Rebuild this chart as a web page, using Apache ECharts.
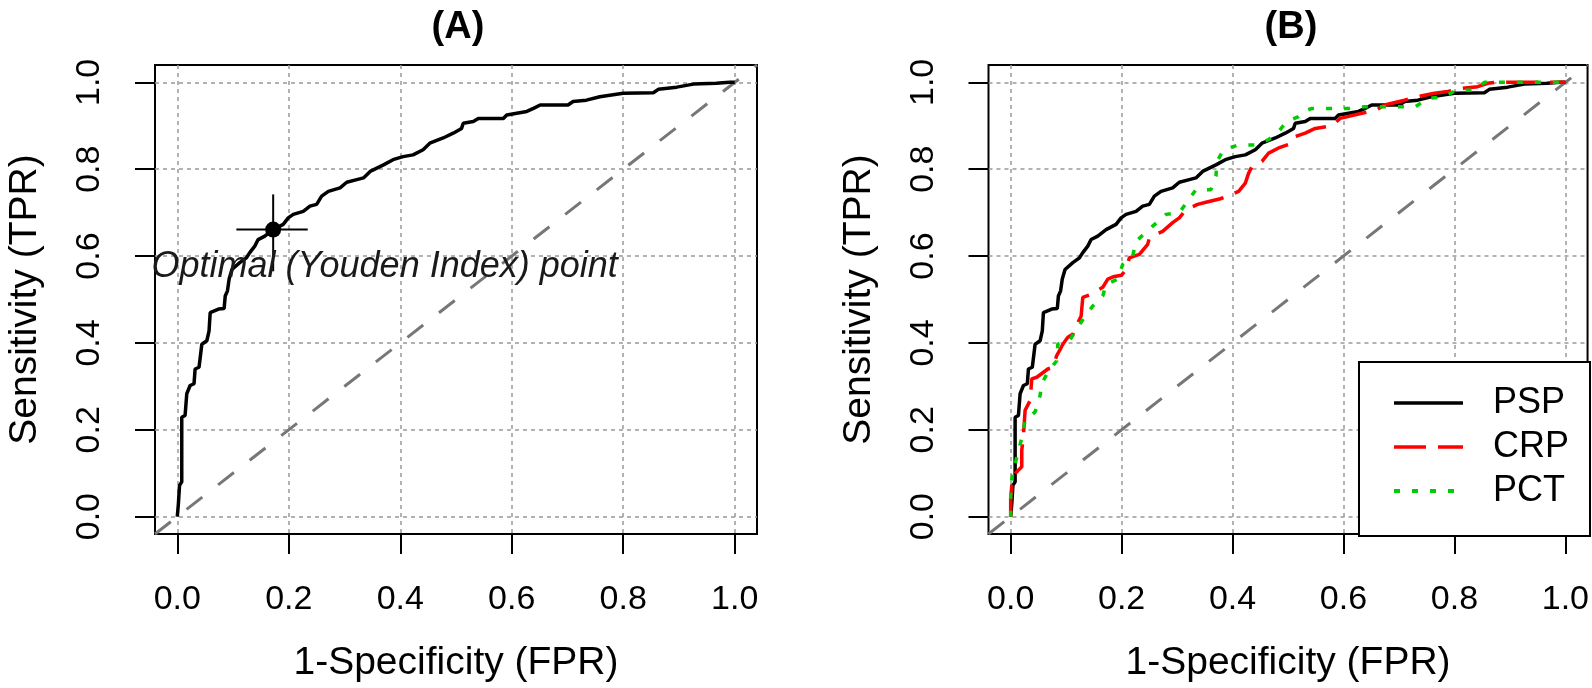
<!DOCTYPE html>
<html>
<head>
<meta charset="utf-8">
<script src="https://cdn.jsdelivr.net/npm/echarts@6/dist/echarts.min.js"></script>
<style>html,body{margin:0;padding:0;background:#fff}#c{width:1592px;height:688px}</style>
</head>
<body>
<div id="c"></div>
<script>
// ---- data ----
const tickValues = [0, 0.2, 0.4, 0.6, 0.8, 1.0];
const axisRange = [-0.04, 1.04];
const diagonal = [[-0.04, -0.04], [1.04, 1.04]];

const pspFpr = [0,0.002,0.004,0.004,0.008,0.008,0.014,0.017,0.023,0.030,0.032,0.039,0.044,0.053,0.057,0.059,0.074,0.084,0.086,0.090,0.093,0.098,0.100,0.112,0.124,0.130,0.139,0.145,0.157,0.172,0.190,0.199,0.208,0.226,0.238,0.250,0.259,0.271,0.292,0.304,0.322,0.334,0.346,0.370,0.387,0.405,0.423,0.441,0.453,0.477,0.495,0.510,0.513,0.531,0.540,0.585,0.591,0.627,0.639,0.651,0.701,0.710,0.734,0.758,0.800,0.854,0.863,0.896,0.926,0.967,0.991,1.000];
const pspTpr = [0,0.030,0.034,0.072,0.080,0.229,0.233,0.283,0.302,0.306,0.340,0.344,0.397,0.405,0.428,0.470,0.478,0.479,0.508,0.520,0.547,0.569,0.573,0.585,0.596,0.608,0.623,0.638,0.646,0.661,0.673,0.688,0.696,0.703,0.715,0.719,0.738,0.749,0.757,0.770,0.776,0.780,0.795,0.810,0.822,0.829,0.833,0.845,0.860,0.872,0.883,0.894,0.906,0.910,0.917,0.917,0.925,0.933,0.940,0.948,0.948,0.956,0.959,0.967,0.975,0.976,0.984,0.989,0.996,0.998,1.000,1.000];

const crpFpr = [0,0,0.002,0.005,0.014,0.020,0.020,0.023,0.026,0.035,0.038,0.047,0.067,0.076,0.083,0.088,0.094,0.103,0.112,0.118,0.127,0.130,0.145,0.166,0.175,0.187,0.200,0.208,0.214,0.232,0.247,0.250,0.262,0.274,0.292,0.304,0.316,0.337,0.352,0.378,0.399,0.411,0.423,0.429,0.435,0.453,0.465,0.483,0.507,0.513,0.531,0.549,0.579,0.594,0.633,0.659,0.674,0.710,0.734,0.764,0.788,0.812,0.842,0.860,0.872,1.000];
const crpTpr = [0,0.042,0.072,0.095,0.107,0.115,0.153,0.187,0.245,0.267,0.317,0.321,0.340,0.344,0.371,0.382,0.397,0.413,0.420,0.439,0.462,0.505,0.512,0.528,0.547,0.553,0.556,0.569,0.596,0.604,0.627,0.642,0.650,0.657,0.677,0.688,0.707,0.719,0.724,0.732,0.742,0.749,0.768,0.791,0.806,0.818,0.837,0.849,0.860,0.875,0.883,0.894,0.900,0.917,0.929,0.936,0.948,0.959,0.967,0.975,0.979,0.986,0.990,0.998,1.000,1.000];

const pctFpr = [0,0,0.002,0.014,0.020,0.026,0.044,0.053,0.056,0.067,0.083,0.085,0.106,0.121,0.133,0.148,0.166,0.172,0.193,0.202,0.220,0.226,0.256,0.280,0.304,0.319,0.334,0.361,0.370,0.372,0.384,0.411,0.441,0.465,0.483,0.498,0.519,0.528,0.543,0.609,0.639,0.730,0.752,0.782,0.803,0.836,0.854,1.000];
const pctTpr = [0,0.050,0.088,0.153,0.180,0.222,0.241,0.279,0.306,0.333,0.359,0.397,0.405,0.436,0.459,0.485,0.508,0.535,0.547,0.581,0.600,0.634,0.669,0.696,0.700,0.726,0.753,0.753,0.784,0.818,0.845,0.856,0.856,0.868,0.887,0.910,0.921,0.933,0.940,0.940,0.944,0.944,0.963,0.967,0.982,0.982,1.000,1.000];

const optimalPoint = [0.172, 0.661];
const optimalCiFpr = [0.106, 0.234];
const optimalCiTpr = [0.565, 0.742];
const annotationPos = [0.372, 0.574];
const annotationText = 'Optimal (Youden Index) point';
const seriesNames = ['PSP', 'CRP', 'PCT'];
const panelTitles = ['(A)', '(B)'];
const xName = '1-Specificity (FPR)';
const yName = 'Sensitivity (TPR)';

// ---- build ----
const zip = (a, b) => a.map((v, i) => [v, b[i]]);
const FONT = 'Liberation Sans, Arial, sans-serif';
const fmt = v => v.toFixed(1);

function xAxis(g) {
  return {
    type: 'value', gridIndex: g, min: axisRange[0], max: axisRange[1],
    name: xName, nameLocation: 'middle', nameGap: 110,
    nameTextStyle: { fontSize: 39, color: '#000', fontFamily: FONT },
    axisLine: { show: false, onZero: false },
    axisTick: { show: true, inside: false, length: 20, customValues: tickValues, lineStyle: { color: '#000', width: 2 } },
    axisLabel: { customValues: tickValues, formatter: fmt, fontSize: 34, margin: 49, color: '#000', fontFamily: FONT },
    splitLine: { show: true, lineStyle: { color: '#999', type: [4, 4], width: 1.5 } }
  };
}
function yAxis(g) {
  return {
    type: 'value', gridIndex: g, min: axisRange[0], max: axisRange[1],
    name: yName, nameLocation: 'middle', nameGap: 110, nameRotate: 90,
    nameTextStyle: { fontSize: 39, color: '#000', fontFamily: FONT },
    axisLine: { show: false, onZero: false },
    axisTick: { show: true, inside: false, length: 20, customValues: tickValues, lineStyle: { color: '#000', width: 2 } },
    axisLabel: { customValues: tickValues, formatter: fmt, rotate: 90, fontSize: 34, margin: 48, color: '#000', fontFamily: FONT },
    splitLine: { show: true, lineStyle: { color: '#999', type: [4, 4], width: 1.5 } }
  };
}
const diagSeries = g => ({
  type: 'line', xAxisIndex: g, yAxisIndex: g, data: diagonal, symbol: 'none', silent: true,
  lineStyle: { color: '#777', width: 3, type: [20, 20] }, z: 2
});
const curve = (g, name, data, color, type) => ({
  type: 'line', name, xAxisIndex: g, yAxisIndex: g, data, symbol: 'none',
  lineStyle: { color, width: 3.5, type, cap: 'butt' }, itemStyle: { color }, z: 3
});
const legendItem = (name, color, width, type) => ({
  name, lineStyle: { color, width, type }, itemStyle: { opacity: 0 }
});

const option = {
  animation: false,
  backgroundColor: '#fff',
  textStyle: { fontFamily: FONT },
  title: [
    { text: panelTitles[0], left: 453, top: 4, textAlign: 'center', textStyle: { fontSize: 38, fontWeight: 'bold', color: '#000', fontFamily: FONT } },
    { text: panelTitles[1], left: 1286, top: 4, textAlign: 'center', textStyle: { fontSize: 38, fontWeight: 'bold', color: '#000', fontFamily: FONT } }
  ],
  grid: [
    { left: 155, top: 65, width: 602, height: 471, show: true, borderColor: '#000', borderWidth: 2, backgroundColor: 'transparent' },
    { left: 988.5, top: 65, width: 601.5, height: 471, show: true, borderColor: '#000', borderWidth: 2, backgroundColor: 'transparent' }
  ],
  xAxis: [xAxis(0), xAxis(1)],
  yAxis: [yAxis(0), yAxis(1)],
  legend: {
    data: [
      legendItem(seriesNames[0], '#000', 3.5, 'solid'),
      legendItem(seriesNames[1], '#ff0000', 3.5, [32, 12]),
      legendItem(seriesNames[2], '#00cc00', 4, [6, 12])
    ],
    orient: 'vertical', right: 2, top: 362, itemWidth: 69, itemHeight: 1, itemGap: 0,
    padding: [19, 21, 23, 33], borderColor: '#000', borderWidth: 2, borderRadius: 0,
    backgroundColor: '#fff', selectedMode: false,
    textStyle: { fontSize: 36, color: '#000', lineHeight: 44, padding: [0, 0, 0, 25], fontFamily: FONT }
  },
  series: [
    diagSeries(0),
    curve(0, 'A_PSP', zip(pspFpr, pspTpr), '#000', 'solid'),
    { type: 'line', xAxisIndex: 0, yAxisIndex: 0, symbol: 'none', silent: true, z: 4,
      data: [[optimalCiFpr[0], optimalPoint[1]], [optimalCiFpr[1], optimalPoint[1]]], lineStyle: { color: '#000', width: 2 } },
    { type: 'line', xAxisIndex: 0, yAxisIndex: 0, symbol: 'none', silent: true, z: 4,
      data: [[optimalPoint[0], optimalCiTpr[0]], [optimalPoint[0], optimalCiTpr[1]]], lineStyle: { color: '#000', width: 2 } },
    { type: 'scatter', xAxisIndex: 0, yAxisIndex: 0, data: [optimalPoint], symbolSize: 16, itemStyle: { color: '#000', opacity: 1 }, z: 5 },
    { type: 'scatter', xAxisIndex: 0, yAxisIndex: 0, data: [annotationPos], symbolSize: 0, z: 6, silent: true,
      itemStyle: { opacity: 1 },
      label: { show: true, position: 'inside', formatter: annotationText, fontStyle: 'italic', fontSize: 36, color: '#1a1a1a', opacity: 1, fontFamily: FONT } },
    diagSeries(1),
    curve(1, seriesNames[0], zip(pspFpr, pspTpr), '#000', 'solid'),
    curve(1, seriesNames[1], zip(crpFpr, crpTpr), '#ff0000', [32, 12]),
    curve(1, seriesNames[2], zip(pctFpr, pctTpr), '#00cc00', [6, 12])
  ]
};
const chart = echarts.init(document.getElementById('c'), null, { renderer: 'canvas' });
chart.setOption(option);
</script>
</body>
</html>
